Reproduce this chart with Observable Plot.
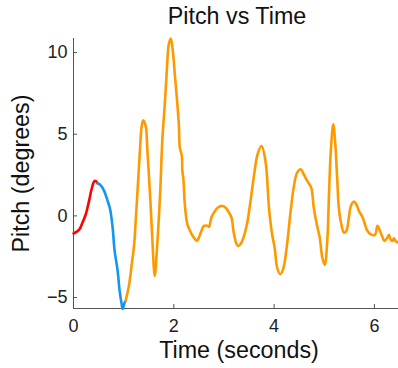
<!DOCTYPE html>
<html><head><meta charset="utf-8">
<script src="https://cdn.jsdelivr.net/npm/d3@7"></script>
<script src="https://cdn.jsdelivr.net/npm/@observablehq/plot@0.6"></script>
<style>body{margin:0;background:#fff}</style>
</head><body><div id="chart"></div>
<script>
const title = "Pitch vs Time";
const xLabel = "Time (seconds)";
const yLabel = "Pitch (degrees)";
const xTicks = [0, 2, 4, 6];
const yTicks = [-5, 0, 5, 10];

const redTime  = [0, 0.11, 0.18, 0.245, 0.31, 0.36, 0.41, 0.44, 0.48];
const redPitch = [-1.08, -0.86, -0.41, 0.1, 0.92, 1.63, 2.1, 2.14, 2.0];

const blueTime  = [0.48, 0.54, 0.61, 0.68, 0.73, 0.78, 0.82, 0.88, 0.92, 0.96, 0.98, 1.02, 1.04];
const bluePitch = [2.0, 1.88, 1.53, 0.92, 0.41, -0.71, -2.14, -3.36, -4.59, -5.4, -5.7, -5.3, -5.2];

const orangeTime = [1.04, 1.11, 1.17, 1.21, 1.24, 1.29, 1.33, 1.36, 1.39, 1.44, 1.47, 1.51, 1.54, 1.57, 1.62, 1.67, 1.73, 1.77, 1.82, 1.86, 1.90, 1.94, 1.98, 2.02, 2.06, 2.10, 2.12, 2.16, 2.17, 2.19, 2.22, 2.27, 2.34, 2.40, 2.46, 2.50, 2.55, 2.60, 2.67, 2.70, 2.75, 2.80, 2.88, 2.97, 3.03, 3.10, 3.15, 3.19, 3.24, 3.28, 3.33, 3.40, 3.47, 3.53, 3.60, 3.67, 3.75, 3.83, 3.90, 3.96, 4.01, 4.06, 4.12, 4.18, 4.25, 4.33, 4.39, 4.46, 4.53, 4.59, 4.66, 4.74, 4.79, 4.85, 4.91, 4.96, 5.01, 5.06, 5.09, 5.13, 5.18, 5.22, 5.26, 5.29, 5.34, 5.39, 5.44, 5.49, 5.53, 5.59, 5.64, 5.69, 5.76, 5.81, 5.86, 5.92, 6.01, 6.06, 6.11, 6.15, 6.20, 6.26, 6.29, 6.32, 6.36, 6.39, 6.43, 6.48];
const orangePitch = [-5.2, -4.18, -2.75, -1.73, -0.3, 2.2, 4.3, 5.5, 5.85, 5.5, 4.18, 2.14, 0.51, -1.33, -3.67, -1.73, 1.53, 4.59, 6.83, 8.87, 10.5, 10.86, 10.1, 8.67, 7.24, 5.6, 4.18, 3.67, 2.75, 2.3, 0.7, -0.51, -1.02, -1.33, -1.53, -1.33, -0.92, -0.61, -0.61, -0.67, -0.1, 0.2, 0.51, 0.61, 0.51, 0.2, -0.1, -0.92, -1.63, -1.84, -1.73, -1.22, -0.31, 0.92, 2.5, 3.77, 4.28, 3.3, 0.4, -1.12, -1.94, -3.16, -3.57, -3.26, -1.94, 0.31, 1.73, 2.65, 2.85, 2.55, 2.14, 1.73, 0.51, -0.51, -1.33, -2.55, -3.0, -1.53, 0.92, 3.98, 5.6, 4.38, 2.14, 0.51, -0.51, -1.02, -0.92, -0.1, 0.61, 0.88, 0.71, 0.31, -0.06, -0.51, -0.92, -1.12, -1.16, -0.61, -0.92, -1.22, -1.53, -1.33, -1.16, -1.43, -1.53, -1.37, -1.57, -1.63];

const rows = (ts, ps) => ts.map((t, i) => ({t, p: ps[i]}));
const red = rows(redTime, redPitch);
const blue = rows(blueTime, bluePitch);
const orange = rows(orangeTime, orangePitch);

const yMin = -5.67, yMax = 10.86, xMax = 6.48;
const axisColor = "#555";
const labelSize = 23.3;
const lineOpts = {x: "t", y: "p", strokeWidth: 2.6, curve: "catmull-rom", strokeLinejoin: "round", strokeLinecap: "round"};

const chart = Plot.plot({
  width: 398, height: 368,
  marginLeft: 73, marginRight: 0, marginTop: 38, marginBottom: 60,
  style: {fontFamily: "'Liberation Sans', Arial, sans-serif", background: "#fff", color: "#222"},
  x: {domain: [0, xMax]},
  y: {domain: [yMin, yMax]},
  marks: [
    Plot.ruleX([0], {stroke: axisColor}),
    Plot.ruleY([yMin], {stroke: axisColor}),
    Plot.tickX(xTicks, {x: d => d, stroke: axisColor, insetTop: 266}),
    Plot.tickY(yTicks, {y: d => d, stroke: axisColor, insetRight: 321}),
    Plot.axisX({ticks: xTicks, tickFormat: d3.format("d"), tickSize: 0, tickPadding: 11, fontSize: 18, label: null}),
    Plot.axisY({ticks: yTicks, tickFormat: d => d < 0 ? "\u2212" + Math.abs(d) : String(d), tickSize: 0, tickPadding: 6, fontSize: 18, label: null}),
    Plot.line(red, {...lineOpts, stroke: "#ff0000"}),
    Plot.line(blue, {...lineOpts, stroke: "#1496f0"}),
    Plot.line(orange, {...lineOpts, stroke: "#ff9900"}),
    Plot.text([title], {frameAnchor: "top", lineAnchor: "middle", dy: -22, dx: 1, fontSize: labelSize, fill: "#111"}),
    Plot.text([xLabel], {frameAnchor: "bottom", lineAnchor: "middle", dy: 42, dx: 3, fontSize: labelSize, fill: "#111"}),
    Plot.text([yLabel], {frameAnchor: "left", textAnchor: "middle", lineAnchor: "middle", dx: -52, rotate: -90, fontSize: labelSize, fill: "#111"})
  ]
});
document.getElementById("chart").appendChild(chart);
</script>
</body></html>
